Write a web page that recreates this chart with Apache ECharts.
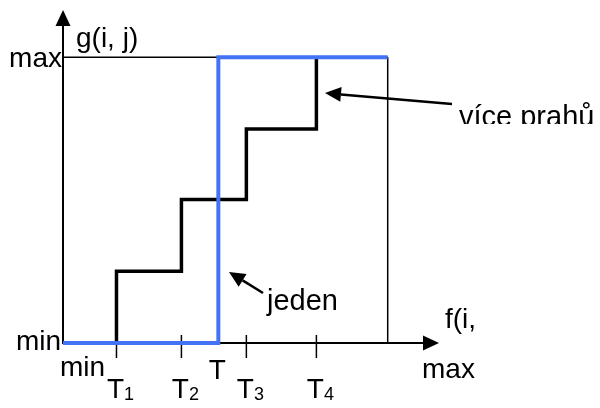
<!DOCTYPE html>
<html>
<head>
<meta charset="utf-8">
<script src="https://cdn.jsdelivr.net/npm/echarts@6/dist/echarts.min.js"></script>
<style>html,body{margin:0;padding:0;background:#fff;}#c{width:600px;height:408px;}</style>
</head>
<body>
<div id="c"></div>
<script>
// ---- data (grey-level units, 0 = min, 255 = max) ----
const thresholds = [42, 93, 144, 199];          // T1..T4 (multi-threshold)
const thresholdSubs = ['1', '2', '3', '4'];
const singleThreshold = 122;                    // T (single threshold)
const levels = [0, 64, 128, 191, 255];          // output levels of the staircase
const rangeMin = 0, rangeMax = 255;
const axisEndX = 289, axisEndY = 290;           // axis extent incl. arrows

const FONT = '"Liberation Sans", Arial, sans-serif';
const BLUE = '#4472F4';

// staircase (více prahů)
const multi = [[rangeMin, levels[0]]];
thresholds.forEach((t, i) => { multi.push([t, levels[i]]); multi.push([t, levels[i + 1]]); });
// single threshold (jeden)
const single = [[rangeMin, rangeMin], [singleThreshold, rangeMin], [singleThreshold, rangeMax], [rangeMax, rangeMax]];
// frame
const frame = [[rangeMin, rangeMax], [rangeMax, rangeMax], [rangeMax, rangeMin]];

const chart = echarts.init(document.getElementById('c'), null, {renderer: 'canvas'});

function txt(text, x, y, size, align) {
  return {type: 'text', x: x, y: y, silent: true,
    style: {text: text, font: size + 'px ' + FONT, fill: '#000', align: align || 'left', verticalAlign: 'middle'}};
}
function arrow(x1, y1, x2, y2, head, half, w) {
  const a = Math.atan2(y2 - y1, x2 - x1);
  const bx = x2 - head * Math.cos(a), by = y2 - head * Math.sin(a);
  const px = -Math.sin(a) * half, py = Math.cos(a) * half;
  return [
    {type: 'line', silent: true, shape: {x1: x1, y1: y1, x2: bx, y2: by}, style: {stroke: '#000', lineWidth: w}},
    {type: 'polygon', silent: true, shape: {points: [[x2, y2], [bx + px, by + py], [bx - px, by - py]]}, style: {fill: '#000'}}
  ];
}

const option = {
  animation: false,
  tooltip: {show: false},
  grid: {left: 63, top: 18, right: 169, bottom: 65, containLabel: false},
  xAxis: {
    type: 'value', min: 0, max: axisEndX,
    axisLine: {show: true, symbol: ['none', 'triangle'], symbolSize: [15, 16], lineStyle: {color: '#000', width: 2}},
    axisTick: {show: false}, axisLabel: {show: false}, splitLine: {show: false}
  },
  yAxis: {
    type: 'value', min: 0, max: axisEndY,
    axisLine: {show: true, symbol: ['none', 'triangle'], symbolSize: [15, 16], lineStyle: {color: '#000', width: 2}},
    axisTick: {show: false}, axisLabel: {show: false}, splitLine: {show: false}
  },
  series: [
    {type: 'line', data: frame, showSymbol: false, silent: true, lineStyle: {color: '#000', width: 1.5}},
    {type: 'line', data: multi, showSymbol: false, silent: true, lineStyle: {color: '#000', width: 3.5, join: 'miter', cap: 'butt'}},
    {type: 'line', data: single, showSymbol: false, silent: true, lineStyle: {color: BLUE, width: 4, join: 'miter', cap: 'butt'}},
    // tick marks at T1..T4
    {type: 'scatter', silent: true, symbol: 'rect', symbolSize: [1.5, 23], symbolOffset: [0, 3.5],
      itemStyle: {color: '#000', opacity: 1}, data: thresholds.map(t => [t, 0])},
    // tick labels T1..T4
    {type: 'scatter', silent: true, symbolSize: 1, itemStyle: {color: 'rgba(0,0,0,0)', opacity: 1},
      data: thresholds.map((t, i) => ({value: [t, 0], sub: thresholdSubs[i]})),
      label: {show: true, position: 'inside', offset: [4, 47], opacity: 1, color: '#000',
        formatter: p => '{t|T}{s|' + p.data.sub + '}',
        rich: {t: {fontSize: 28, fontFamily: FONT, color: '#000', verticalAlign: 'bottom'},
               s: {fontSize: 18, fontFamily: FONT, color: '#000', verticalAlign: 'bottom'}}}},
    // label T (single threshold)
    {type: 'scatter', silent: true, symbolSize: 1, itemStyle: {color: 'rgba(0,0,0,0)', opacity: 1},
      data: [[singleThreshold, 0]],
      label: {show: true, position: 'inside', offset: [-1, 28], formatter: 'T', opacity: 1,
        fontSize: 28, fontFamily: FONT, color: '#000'}}
  ],
  graphic: [
    txt('max', 62, 59, 28, 'right'),
    txt('g(i, j)', 76, 39, 28),
    txt('min', 61, 342, 28, 'right'),
    txt('min', 60, 368, 28),
    txt('f(i,', 445, 320, 28),
    txt('max', 422, 370, 28),
    txt('více prahů', 459, 118, 29),
    {type: 'rect', silent: true, shape: {x: 440, y: 124, width: 160, height: 20}, style: {fill: '#fff'}},
    txt('jeden', 267, 302, 29)
  ].concat(arrow(452, 104, 325, 93, 16, 7.5, 2.5)).concat(arrow(263, 293, 229, 272, 16, 7.5, 2.5))
};
chart.setOption(option);
</script>
</body>
</html>
